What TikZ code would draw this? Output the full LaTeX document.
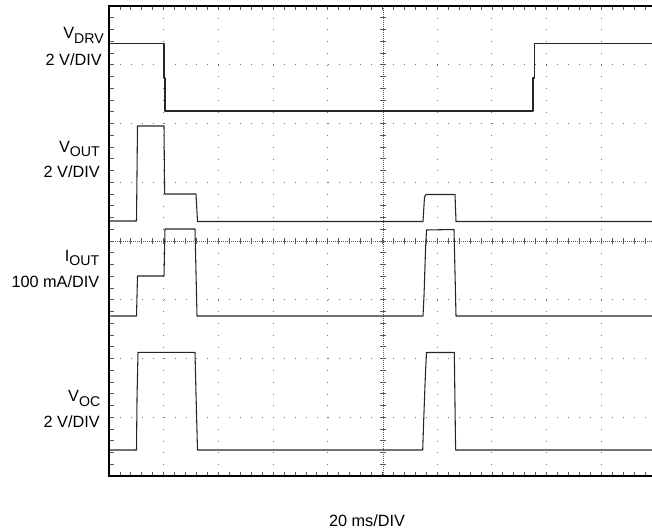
\documentclass[tikz,border=0pt]{standalone}
\usepackage{fontspec}
\setmainfont{Liberation Sans}
\newcommand{\mainsz}{\fontsize{12.2}{14}\selectfont}
\newcommand{\subtxt}[1]{\raisebox{-3.6pt}{\fontsize{10.6}{12}\selectfont #1}}
\begin{document}
\begin{tikzpicture}[x=0.75pt,y=-0.75pt,
  trace/.style={line width=0.8pt, black!85, line join=round},
  gridv/.style={black!55, line width=0.75pt, dash pattern=on 0.75pt off 8.06pt},
  gridh/.style={black!55, line width=0.75pt, dash pattern=on 0.75pt off 7.45pt},
  axisline/.style={black!65, line width=0.6pt, dash pattern=on 0.6pt off 0.9pt},
  tick/.style={black!65, line width=0.6pt},
  frame/.style={line width=2.2pt, black},
  lbl/.style={anchor=base east, inner sep=0pt, font=\mainsz}]
\useasboundingbox (0,0) rectangle (652,531);
\begin{scope}
\clip (0,0) rectangle (652,531);
% grid lines (dotted)
\foreach \i in {1,2,3,4,6,7,8,9,10}
  \draw[gridv] ({109+54.7*\i},6) -- ({109+54.7*\i},476);
\foreach \j in {1,2,3,5,6,7}
  \draw[gridh] (109,{6+58.75*\j}) -- (660,{6+58.75*\j});
% centre axes
\draw[axisline] (383,6) -- (383,476);
\draw[axisline] (109,241) -- (660,241);
\foreach \k in {0,...,40}
  \draw[tick] (380,{6+11.75*\k}) -- (386,{6+11.75*\k});
\foreach \k in {0,...,50}
  \draw[tick] ({109+10.94*\k},238) -- ({109+10.94*\k},244);
% border ticks
\foreach \k in {0,...,50} {
  \draw[tick] ({109+10.94*\k},6) -- ({109+10.94*\k},10.5);
  \draw[tick] ({109+10.94*\k},476) -- ({109+10.94*\k},471.5);
}
\foreach \k in {0,...,40}
  \draw[tick] (109,{6+11.75*\k}) -- (113.5,{6+11.75*\k});
% traces
\draw[trace] (109,43.5) -- (164,43.5) -- (164,78) -- (165,78) -- (165,111) -- (533,111)
  -- (533,78) -- (534.5,78) -- (534.5,43.5) -- (656,43.5);
\draw[trace] (109,221) -- (136.5,221) -- (137.5,126) -- (164,126) -- (164.6,194)
  -- (196,194) -- (197.5,221.5) -- (423,221.5) -- (424.5,197) -- (426,194.5)
  -- (455,194.5) -- (456,221.5) -- (656,221.5);
\draw[trace] (109,316) -- (136.5,316) -- (137.5,276) -- (164,276) -- (165,229)
  -- (195,229) -- (197,316) -- (423,316) -- (424,296) -- (425.5,250) -- (426.5,230)
  -- (454,229.5) -- (456,316) -- (656,316);
\draw[trace] (109,450) -- (136.5,450) -- (137,399) -- (138,352.3) -- (195,352.3)
  -- (196,394) -- (197.5,450) -- (422.7,450) -- (423.7,420) -- (425.5,372)
  -- (426.5,352.5) -- (454.3,352.5) -- (455,405) -- (455.6,450) -- (656,450);
% frame
\draw[frame] (660,6) -- (109,6) -- (109,476) -- (660,476);
\end{scope}
% labels
\node[lbl] (vdrv) at (104,39) {V\subtxt{DRV}};
\node[lbl] (vdrvs) at (102,65.7) {2 V/DIV};
\node[lbl] (vout) at (100,152) {V\subtxt{OUT}};
\node[lbl] (vouts) at (100,177) {2 V/DIV};
\node[lbl] (iout) at (99.5,261) {I\subtxt{OUT}};
\node[lbl] (iouts) at (99.5,287) {100 mA/DIV};
\node[lbl] (voc) at (100.5,401.5) {V\subtxt{OC}};
\node[lbl] (vocs) at (100,427) {2 V/DIV};
\node[anchor=base, inner sep=0pt, font=\mainsz] (tdiv) at (367,526) {20 ms/DIV};
\end{tikzpicture}
\end{document}
